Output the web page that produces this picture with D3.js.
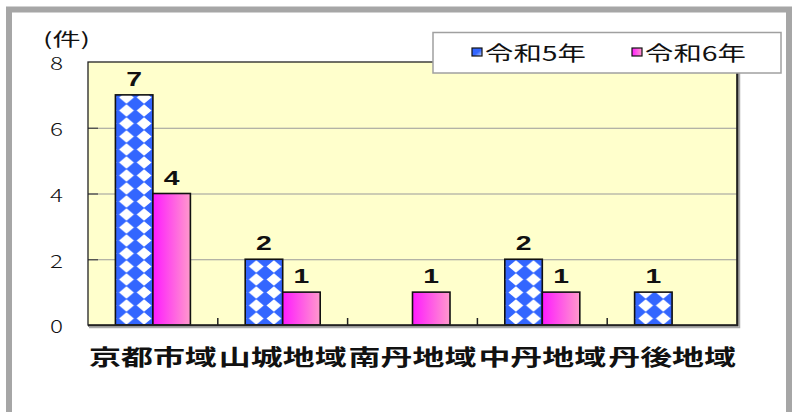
<!DOCTYPE html>
<html>
<head>
<meta charset="utf-8">
<script src="https://cdn.jsdelivr.net/npm/d3@7/dist/d3.min.js"></script>
<style>
  html, body { margin: 0; padding: 0; background: #fff; }
  svg { display: block; }
</style>
</head>
<body>
<svg id="chart" width="792" height="412"></svg>
<script>
// 地域別件数（令和5年・令和6年）
const categories = ["京都市域", "山城地域", "南丹地域", "中丹地域", "丹後地域"];
const seriesNames = ["令和5年", "令和6年"];
const valuesR5 = [7, 2, null, 2, 1];
const valuesR6 = [4, 1, 1, 1, null];
const yTicks = [0, 2, 4, 6, 8];
const unitLabel = "(件)";

const seriesValues = [valuesR5, valuesR6];

const svg = d3.select("#chart");
const plot = { left: 88, right: 737, top: 62, bottom: 325 };
const CJK = "'Noto Sans CJK JP', 'Noto Sans', sans-serif";
const LATIN = "'Liberation Sans', Arial, sans-serif";

// ---- defs: diamond pattern and gradients ----
const defs = svg.append("defs");
const pat = defs.append("pattern")
  .attr("id", "diamonds")
  .attr("patternUnits", "userSpaceOnUse")
  .attr("width", 17.6).attr("height", 13)
  .attr("x", -5.5).attr("y", 0);
pat.append("rect").attr("width", 17.6).attr("height", 13).attr("fill", "#3366ff");
pat.append("path")
  .attr("d", "M8.8,0.3 L16.2,6.5 L8.8,12.7 L1.4,6.5 Z")
  .attr("fill", "#ffffff");

const grad = defs.append("linearGradient").attr("id", "pinkGrad")
  .attr("x1", "0%").attr("x2", "100%").attr("y1", "0%").attr("y2", "0%");
grad.append("stop").attr("offset", "0%").attr("stop-color", "#ff1aff");
grad.append("stop").attr("offset", "100%").attr("stop-color", "#ff99cc");

const gradBlue = defs.append("linearGradient").attr("id", "blueGrad")
  .attr("x1", "0%").attr("x2", "100%").attr("y1", "0%").attr("y2", "100%");
gradBlue.append("stop").attr("offset", "0%").attr("stop-color", "#3366ff");
gradBlue.append("stop").attr("offset", "55%").attr("stop-color", "#3366ff");
gradBlue.append("stop").attr("offset", "100%").attr("stop-color", "#ccdcff");

const fills = ["url(#diamonds)", "url(#pinkGrad)"];
const legendFills = ["url(#blueGrad)", "url(#pinkGrad)"];

// ---- outer frame ----
svg.append("rect")
  .attr("x", 9).attr("y", 9.5).attr("width", 780).attr("height", 406)
  .attr("fill", "#ffffff").attr("stroke", "#a6a6a6").attr("stroke-width", 6);

// ---- scales ----
const x0 = d3.scaleBand().domain(categories).range([plot.left, plot.right]).padding(0);
const groupW = 75;
const x1 = d3.scaleBand().domain(seriesNames)
  .range([(x0.bandwidth() - groupW) / 2, (x0.bandwidth() + groupW) / 2]).padding(0);
const y = d3.scaleLinear().domain([0, 8]).range([plot.bottom, plot.top]);

// ---- plot background ----
svg.append("rect")
  .attr("x", plot.left).attr("y", plot.top)
  .attr("width", plot.right - plot.left).attr("height", plot.bottom - plot.top)
  .attr("fill", "#ffffcc");

// gridlines
const grid = svg.append("g")
  .attr("transform", `translate(${plot.left},0)`)
  .call(d3.axisLeft(y).tickValues(yTicks.filter(v => v > 0 && v < 8))
    .tickSize(-(plot.right - plot.left)).tickFormat(""));
grid.select(".domain").remove();
grid.selectAll("line").attr("stroke", "#9a9a9a").attr("stroke-width", 1.2);

// inner y ticks (short dark marks)
const yTickG = svg.append("g")
  .attr("transform", `translate(${plot.left},0)`)
  .call(d3.axisLeft(y).tickValues(yTicks.filter(v => v > 0 && v < 8))
    .tickSize(-10).tickFormat(""));
yTickG.select(".domain").remove();
yTickG.selectAll("line").attr("stroke", "#444").attr("stroke-width", 1.2);

// y tick labels (horizontally stretched)
const yLab = svg.append("g")
  .attr("transform", `translate(${plot.left},0)`)
  .call(d3.axisLeft(y).tickValues(yTicks).tickSize(0).tickPadding(0));
yLab.select(".domain").remove();
yLab.selectAll(".tick text")
  .attr("x", 0)
  .attr("dy", null)
  .attr("dominant-baseline", "central")
  .attr("text-anchor", "end")
  .attr("font-family", CJK)
  .attr("font-size", 18)
  .attr("font-weight", 300)
  .attr("fill", "#111")
  .attr("transform", "translate(-25,0) scale(1.35,1)");

// ---- bars ----
const groups = svg.append("g").selectAll("g")
  .data(categories)
  .join("g")
  .attr("transform", d => `translate(${x0(d)},0)`);

const barData = (c, i) => seriesNames.map((s, k) => ({ s, k, v: seriesValues[k][i] }))
  .filter(d => d.v != null);

groups.selectAll("rect")
  .data((c, i) => barData(c, i))
  .join("rect")
  .attr("x", d => x1(d.s))
  .attr("y", d => y(d.v))
  .attr("width", x1.bandwidth())
  .attr("height", d => y(0) - y(d.v))
  .attr("fill", d => fills[d.k])
  .attr("stroke", "#111")
  .attr("stroke-width", 1.6);

// value labels
groups.selectAll("text.val")
  .data((c, i) => barData(c, i))
  .join("text")
  .attr("class", "val")
  .attr("transform", d => `translate(${x1(d.s) + x1.bandwidth() / 2},${y(d.v) - 9}) scale(1.35,1)`)
  .attr("text-anchor", "middle")
  .attr("font-family", LATIN)
  .attr("font-weight", "bold")
  .attr("font-size", 21)
  .attr("fill", "#111")
  .text(d => d.v);

// ---- plot border ----
svg.append("rect")
  .attr("x", plot.left).attr("y", plot.top)
  .attr("width", plot.right - plot.left).attr("height", plot.bottom - plot.top)
  .attr("fill", "none").attr("stroke", "#222").attr("stroke-width", 1.3);
svg.append("path")
  .attr("d", `M${plot.left},${plot.bottom + 0.5}H${plot.right + 0.5}V${plot.top}`)
  .attr("fill", "none").attr("stroke", "#222").attr("stroke-width", 2.2);
svg.append("path")
  .attr("d", `M${plot.left + 1},${plot.bottom + 2.5}H${plot.right + 2.5}V${plot.top + 1}`)
  .attr("fill", "none").attr("stroke", "#aaa").attr("stroke-width", 1.5);

// category boundary ticks
svg.append("g").selectAll("line")
  .data(categories.slice(1))
  .join("line")
  .attr("x1", d => x0(d)).attr("x2", d => x0(d))
  .attr("y1", plot.bottom).attr("y2", plot.bottom - 7)
  .attr("stroke", "#222").attr("stroke-width", 1.5);

// category labels
const xAxis = svg.append("g")
  .attr("transform", `translate(0,${plot.bottom})`)
  .call(d3.axisBottom(x0).tickSize(0).tickPadding(0));
xAxis.select(".domain").remove();
xAxis.selectAll(".tick text")
  .attr("y", 30)
  .attr("dy", null)
  .attr("dominant-baseline", "central")
  .attr("font-family", CJK)
  .attr("font-weight", "bold")
  .attr("font-size", 22)
  .attr("fill", "#111")
  .attr("textLength", x0.bandwidth() - 2)
  .attr("lengthAdjust", "spacingAndGlyphs");

// unit label
svg.append("text")
  .attr("x", 43).attr("y", 38)
  .attr("dominant-baseline", "central")
  .attr("font-family", CJK)
  .attr("font-size", 18)
  .attr("fill", "#111")
  .attr("textLength", 47)
  .attr("lengthAdjust", "spacingAndGlyphs")
  .text(unitLabel);

// ---- legend ----
const legend = svg.append("g");
legend.append("rect")
  .attr("x", 433).attr("y", 32.5).attr("width", 348).attr("height", 40.5)
  .attr("fill", "#ffffff").attr("stroke", "#a0a0a0").attr("stroke-width", 1.5);
const legendX = [472, 632];
seriesNames.forEach((name, k) => {
  legend.append("rect")
    .attr("x", legendX[k]).attr("y", 48).attr("width", 10).attr("height", 8)
    .attr("fill", legendFills[k]).attr("stroke", "#111").attr("stroke-width", 1.2);
  legend.append("text")
    .attr("x", legendX[k] + 13).attr("y", 52)
    .attr("dominant-baseline", "central")
    .attr("font-family", CJK)
    .attr("font-size", 20)
    .attr("fill", "#111")
    .attr("textLength", 101)
    .attr("lengthAdjust", "spacingAndGlyphs")
    .text(name);
});
</script>
</body>
</html>
